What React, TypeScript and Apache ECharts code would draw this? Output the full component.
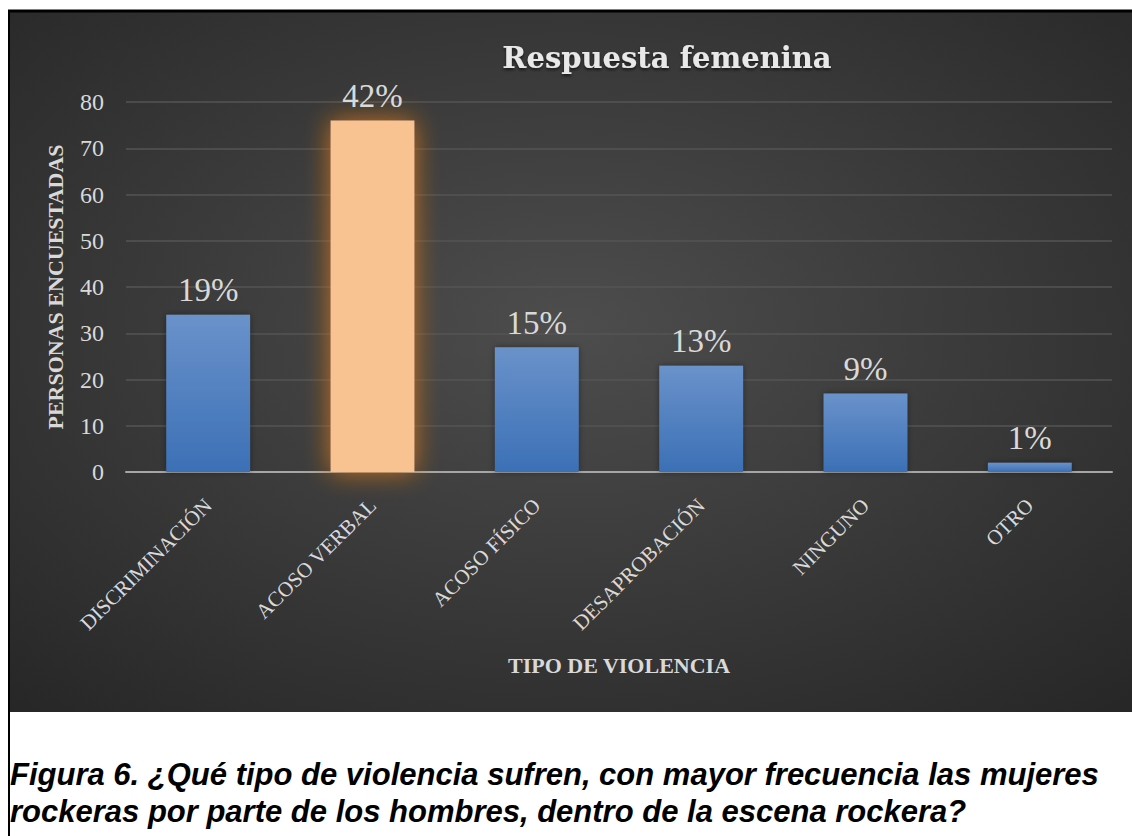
import React, { useEffect, useRef } from "react";
import * as echarts from "echarts";

const categories = ["DISCRIMINACIÓN", "ACOSO VERBAL", "ACOSO FÍSICO", "DESAPROBACIÓN", "NINGUNO", "OTRO"];
const values = [34, 76, 27, 23, 17, 2];
const percentLabels = ["19%", "42%", "15%", "13%", "9%", "1%"];
const highlightIndex = 1;
const titleText = "Respuesta femenina";
const yAxisName = "PERSONAS ENCUESTADAS";
const xAxisName = "TIPO DE VIOLENCIA";
const captionLines = [
  "Figura 6. ¿Qué tipo de violencia sufren, con mayor frecuencia las mujeres",
  "rockeras por parte de los hombres, dentro de la escena rockera?",
];

const SERIF = "'Liberation Serif', 'DejaVu Serif', serif";
const TXT = "#d9d9d9";

export default function App() {
  const ref = useRef<HTMLDivElement>(null);
  useEffect(() => {
    if (!ref.current) return;
    const chart = echarts.init(ref.current, undefined, { renderer: "svg" });
    const blue = new echarts.graphic.LinearGradient(0, 0, 0, 1, [
      { offset: 0, color: "#6a92ca" },
      { offset: 1, color: "#3b70b6" },
    ]);
    chart.setOption({
      animation: false,
      backgroundColor: "#ffffff",
      graphic: [
        {
          type: "rect",
          z: -10,
          silent: true,
          shape: { x: 8, y: 10, width: 1124, height: 702 },
          style: {
            fill: new echarts.graphic.RadialGradient(0.5, 0.45, 0.75, [
              { offset: 0, color: "#4d4d4d" },
              { offset: 1, color: "#262626" },
            ]),
          },
        },
        {
          type: "line",
          z: 10,
          shape: { x1: 8, y1: 11, x2: 1132, y2: 11 },
          style: { stroke: "#000", lineWidth: 3 },
        },
        {
          type: "line",
          z: 10,
          shape: { x1: 9, y1: 10, x2: 9, y2: 836 },
          style: { stroke: "#000", lineWidth: 2 },
        },
        {
          type: "text",
          x: 667,
          y: 58,
          style: {
            text: titleText,
            fill: "#e8e8e8",
            font: "bold 29px 'DejaVu Serif', serif",
            align: "center",
            verticalAlign: "middle",
            textShadowBlur: 3,
            textShadowColor: "rgba(0,0,0,0.6)",
            textShadowOffsetY: 2,
          },
        },
        ...captionLines.map((t, i) => ({
          type: "text",
          x: 10,
          y: 774 + i * 37,
          style: {
            text: t,
            fill: "#000",
            font: "italic bold 31px 'Liberation Sans', Arial, sans-serif",
            align: "left",
            verticalAlign: "middle",
          },
        })),
      ],
      grid: { left: 126, right: 20, top: 102, bottom: 364, containLabel: false },
      xAxis: {
        type: "category",
        data: categories,
        name: xAxisName,
        nameLocation: "middle",
        nameGap: 182,
        nameTextStyle: { color: TXT, fontFamily: SERIF, fontWeight: "bold", fontSize: 22 },
        axisLine: { lineStyle: { color: "#a6a6a6", width: 2 } },
        axisTick: { show: false },
        axisLabel: {
          rotate: 45,
          color: TXT,
          fontFamily: SERIF,
          fontSize: 21,
          margin: 30,
        },
      },
      yAxis: {
        type: "value",
        min: 0,
        max: 80,
        interval: 10,
        name: yAxisName,
        nameLocation: "middle",
        nameGap: 60,
        nameTextStyle: { color: TXT, fontFamily: SERIF, fontWeight: "bold", fontSize: 22 },
        axisLine: { show: false },
        axisTick: { show: false },
        axisLabel: { color: TXT, fontFamily: SERIF, fontSize: 24, margin: 22 },
        splitLine: { lineStyle: { color: "#545454", width: 1.5 } },
      },
      series: [
        {
          type: "bar",
          barCategoryGap: "49%",
          data: values.map((v, i) =>
            i === highlightIndex
              ? {
                  value: v,
                  itemStyle: {
                    color: "#f8c291",
                    shadowBlur: 26,
                    shadowColor: "rgba(205,115,20,0.95)",
                  },
                }
              : { value: v, itemStyle: { color: blue, shadowBlur: 6, shadowColor: "rgba(0,0,0,0.4)" } }
          ),
          label: {
            show: true,
            position: "top",
            distance: 8,
            color: TXT,
            fontFamily: SERIF,
            fontSize: 33,
            formatter: (p: any) => percentLabels[p.dataIndex],
          },
        },
      ],
    });
    return () => chart.dispose();
  }, []);
  return (
    <div
      ref={ref}
      style={{ position: "absolute", left: 0, top: 0, width: 1132, height: 836 }}
    />
  );
}
